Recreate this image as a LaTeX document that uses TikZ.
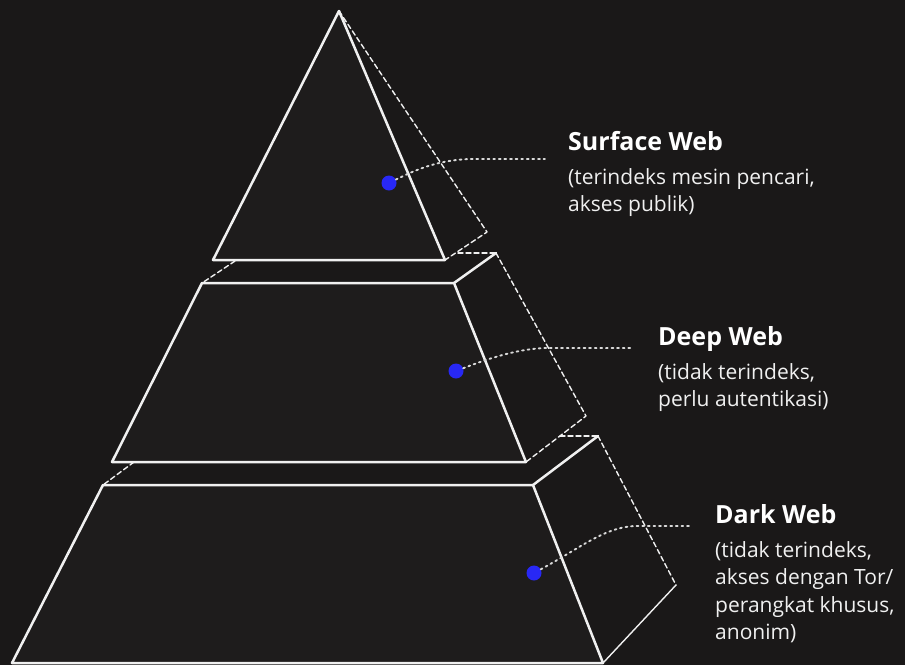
\documentclass[tikz,border=0pt]{standalone}
\usepackage{fontspec}
\setmainfont{Open Sans}
\usetikzlibrary{positioning}

\definecolor{bgdark}{RGB}{26,24,24}
\definecolor{facedark}{RGB}{30,28,28}
\definecolor{dotblue}{RGB}{40,40,245}
\definecolor{edgewhite}{RGB}{240,240,240}

\begin{document}
\begin{tikzpicture}[x=1pt, y=-1pt, line cap=round, line join=round,
  edge/.style={draw=edgewhite, line width=2.5pt},
  hidden/.style={draw=edgewhite, line width=1.4pt, dash pattern=on 5pt off 3pt},
  leader/.style={draw=edgewhite!90!black, line width=1.9pt, dash pattern=on 1.8pt off 3.8pt},
  spot/.style={circle, fill=dotblue, inner sep=0pt, minimum size=15pt},
  title/.style={anchor=base west, inner sep=0pt, text=white,
    font=\fontsize{25}{30}\selectfont\bfseries},
  desc/.style={anchor=north west, align=left, inner sep=0pt, text=edgewhite,
    font=\fontsize{21}{27.5}\selectfont}]

\useasboundingbox (0,0) rectangle (905,665);
\fill[bgdark] (0,0) rectangle (905,665);

% top: surface web
\draw[edge, fill=facedark] (339,11) -- (445,260) -- (213,260) -- cycle;
\draw[hidden] (339,11) -- (487,232) -- (445,260);
\draw[hidden] (458,253) -- (496,253);

% middle: deep web
\draw[edge, fill=facedark] (202,283) -- (454,283) -- (526,462) -- (112,462) -- cycle;
\draw[edge] (454,283) -- (496,253);
\draw[hidden] (496,253) -- (586,416) -- (526,462);
\draw[hidden] (235,261) -- (202,283);
\draw[hidden] (560,436) -- (598,436);

% bottom: dark web
\draw[edge, fill=facedark] (103,485) -- (533,485) -- (603,663) -- (12,663) -- cycle;
\draw[edge] (533,485) -- (598,436);
\draw[hidden] (598,436) -- (676,585);
\draw[edge, line width=1.4pt] (676,585) -- (603,663);
\draw[hidden] (134,462) -- (103,485);

% labels
\node[title] (surftitle) at (568,150) {Surface Web};
\node[desc, below=18pt of surftitle.base west, anchor=north west] (surfdesc)
  {(terindeks mesin pencari,\\akses publik)};

\node[title] (deeptitle) at (658,345) {Deep Web};
\node[desc, below=18pt of deeptitle.base west, anchor=north west] (deepdesc)
  {(tidak terindeks,\\perlu autentikasi)};

\node[title] (darktitle) at (715,523) {Dark Web};
\node[desc, below=18pt of darktitle.base west, anchor=north west] (darkdesc)
  {(tidak terindeks,\\akses dengan Tor/\\perangkat khusus,\\anonim)};

% leaders and dots
\coordinate (surfend) at (545,159);
\coordinate (deepend) at (632,348);
\coordinate (darkend) at (692,526);
\node[spot] (surfdot) at (389,183) {};
\node[spot] (deepdot) at (456,371) {};
\node[spot] (darkdot) at (534,573) {};

\draw[leader] (surfdot) .. controls (425,165) and (445,160) .. (470,159) -- (surfend);
\draw[leader] (deepdot) .. controls (495,356) and (520,349) .. (545,348) -- (deepend);
\draw[leader] (darkdot) .. controls (580,548) and (605,527) .. (635,526) -- (darkend);

\end{tikzpicture}
\end{document}
